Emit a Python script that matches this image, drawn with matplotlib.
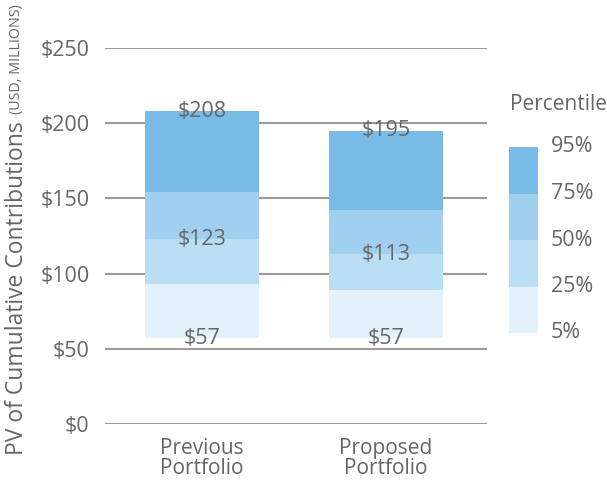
import matplotlib.pyplot as plt

# Percentile values (USD, millions)
portfolios = ['Previous\nPortfolio', 'Proposed\nPortfolio']
p5 = [57, 57]
p25 = [93, 89]
p50 = [123, 113]
p75 = [154, 142]
p95 = [208, 195]

pct_labels = ['5%', '25%', '50%', '75%', '95%']
band_colors = ['#e2f1fa', '#badef4', '#a1cfef', '#79bbe7']
yticks = [0, 50, 100, 150, 200, 250]

text_color = '#666666'
grid_color = '#a19b97'
plt.rcParams['font.family'] = ['Open Sans', 'DejaVu Sans']

fig = plt.figure(figsize=(6.07, 4.82), dpi=100)
ax = fig.add_axes([105 / 607, 1 - 424 / 482, 382 / 607, 376 / 482])

x = range(len(portfolios))
levels = [p5, p25, p50, p75, p95]
for i in range(4):
    lo = levels[i]
    hi = levels[i + 1]
    ax.bar(x, [h - l for h, l in zip(hi, lo)], bottom=lo, width=0.62,
           color=band_colors[i], zorder=2)

# value labels for 5th, 50th and 95th percentile
for vals in (p5, p50, p95):
    for xi, v in zip(x, vals):
        ax.text(xi, v, f'${v}', ha='center', va='center', fontsize=15.5,
                color=text_color, zorder=3)

ax.set_xlim(-0.527, 1.549)
ax.set_ylim(0, 250)
ax.set_yticks(yticks)
ax.set_yticklabels([f'${t}' for t in yticks], fontsize=15.5, color=text_color)
ax.set_xticks(list(x))
ax.set_xticklabels(portfolios, fontsize=15, color=text_color, linespacing=0.95)
ax.tick_params(axis='y', length=0, pad=11)
ax.tick_params(axis='x', length=0, pad=10)
ax.grid(axis='y', color=grid_color, linewidth=1.5, zorder=0)
for s in ax.spines.values():
    s.set_visible(False)

# y label with smaller units part
fig.text(17 / 607, 1 - 455 / 482, 'PV of Cumulative Contributions', rotation=90,
         ha='center', va='bottom', fontsize=16.5, color=text_color)
fig.text(17 / 607, 1 - 114 / 482, '(USD, MILLIONS)', rotation=90,
         ha='center', va='bottom', fontsize=10.3, color=text_color)

# percentile key
lax = fig.add_axes([509 / 607, 1 - 333 / 482, 29 / 607, 186 / 482])
for i, c in enumerate(band_colors):
    lax.bar(0, 1, bottom=i, width=1, color=c)
lax.set_xlim(-0.5, 0.5)
lax.set_ylim(0, 4)
lax.axis('off')
for i, lab in enumerate(pct_labels):
    lax.text(0.95, i, lab, ha='left', va='center',
             fontsize=15.5, color=text_color, clip_on=False)
fig.text(510 / 607, 1 - 104 / 482, 'Percentile', ha='left', va='center',
         fontsize=15, color=text_color)

fig.savefig('out.png', dpi=100)
